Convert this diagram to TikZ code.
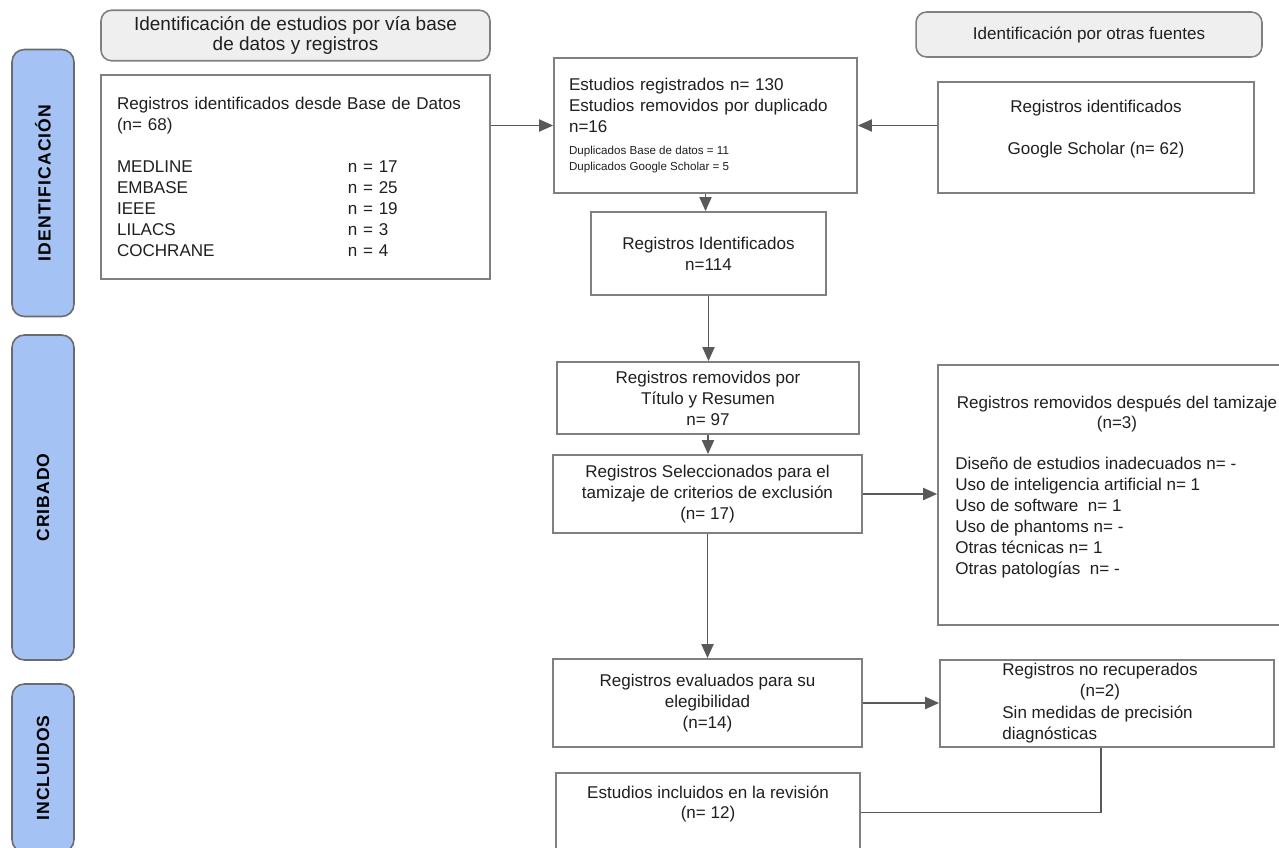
\documentclass[tikz,border=0pt]{standalone}
\usepackage{fontspec}
\setmainfont{Liberation Sans}
\usetikzlibrary{arrows.meta, positioning}
\definecolor{cInk}{HTML}{1F1F1F}
\definecolor{cEdge}{HTML}{808080}
\definecolor{cArr}{HTML}{595959}
\definecolor{cHead}{HTML}{EFEFEF}
\definecolor{cSide}{HTML}{A4C2F4}
\definecolor{cSideD}{HTML}{6B6B6B}
\newcommand{\txtfont}{\fontsize{9.7}{11.9}\selectfont}
\newcommand{\hdfont}{\fontsize{10.8}{11.9}\selectfont}
\newcommand{\dupfont}{\fontsize{6.6}{9}\selectfont\spaceskip=\fontdimen2\font\relax}
\newcommand{\phfont}{\fontsize{10}{11}\selectfont\bfseries\addfontfeature{LetterSpace=6}}
\newcommand{\dbrow}[2]{\makebox[4.62cm][l]{#1}#2}
\tikzset{
  box/.style={rectangle, draw=cEdge, line width=1pt, fill=white, text=cInk, font=\txtfont, inner sep=0pt},
  hdr/.style={rectangle, rounded corners=6pt, draw=cEdge, line width=0.9pt, fill=cHead, align=center,
              font=\hdfont, text=cInk, minimum height=0.9cm},
  phase/.style={rectangle, rounded corners=7pt, draw=cSideD, line width=0.9pt, fill=cSide, rotate=90,
                font=\phfont, text=black, minimum height=1.24cm},
  txt/.style={font=\txtfont, text=cInk, inner sep=0pt},
  flow/.style={-{Triangle[length=2.8mm, width=2.4mm]}, line width=1.1pt, draw=cArr},
  link/.style={line width=1.1pt, draw=cArr},
}

\begin{document}
\begin{tikzpicture}[x=0.02cm, y=-0.02cm]
  \useasboundingbox (0,0) rectangle (1279,848);
  \clip (0,0) rectangle (1279,848);

  % ---- column headers and phases
  \node[hdr, minimum width=7.78cm] (hdDb) at (295.5,35.5) {Identificación de estudios por vía base\\ de datos y registros};
  \node[hdr, minimum width=6.92cm, font=\txtfont] (hdOtr) at (1089,34.5) {Identificación por otras fuentes};
  \node[phase, minimum width=5.34cm] (phId) at (43,183) {IDENTIFICACIÓN};
  \node[phase, minimum width=6.50cm] (phCrib) at (43,497.5) {CRIBADO};
  \node[phase, minimum width=3.36cm] (phInc) at (43,768) {INCLUIDOS};

  % ---- identificacion
  \node[box, minimum width=7.78cm, minimum height=4.08cm, text width=7.14cm, align=left] (db) at (295.5,177)
    {Registros identificados desde Base de Datos\\ (n= 68)\\[11.9pt]
     \dbrow{MEDLINE}{n = 17}\\ \dbrow{EMBASE}{n = 25}\\ \dbrow{IEEE}{n = 19}\\
     \dbrow{LILACS}{n = 3}\\ \dbrow{COCHRANE}{n = 4}};
  \node[box, minimum width=6.06cm, minimum height=2.70cm, text width=5.46cm, align=left] (dup) at (705.5,125.5)
    {Estudios registrados n= 130\\ Estudios removidos por duplicado\\ n=16\\[1pt]
     \parbox[t]{5.46cm}{\dupfont Duplicados Base de datos = 11\\ Duplicados Google Scholar = 5}};
  \node[box, minimum width=6.32cm, minimum height=2.22cm] (gs) at (1096,137.5) {};
  \node[txt, align=center] (gsTxt) at (1096,129.5) {Registros identificados\\[12pt] Google Scholar (n= 62)};
  \node[box, minimum width=4.70cm, minimum height=1.66cm, align=center] (ident) at (708.5,253.5)
    {Registros Identificados\\ n=114};

  % ---- cribado
  \node[box, minimum width=6.04cm, minimum height=1.44cm, align=center] (remTit) at (708,398)
    {Registros removidos por\\ Título y Resumen\\ n= 97};
  \node[box, minimum width=6.18cm, minimum height=1.56cm, align=center] (sel) at (707.5,494)
    {Registros Seleccionados para el\\ tamizaje de criterios de exclusión\\ (n= 17)};
  \node[box, minimum width=7.16cm, minimum height=5.20cm] (remAft) at (1117,495) {};
  \node[txt, align=center] (remAftHd) at (1117,414) {Registros removidos después del tamizaje\\ (n=3)};
  \node[txt, align=left, anchor=north west] (remAftLst) at (955,457)
    {Diseño de estudios inadecuados n= -\\ Uso de inteligencia artificial n= 1\\ Uso de software~ n= 1\\
     Uso de phantoms n= -\\ Otras técnicas n= 1\\ Otras patologías~ n= -};

  % ---- incluidos
  \node[box, minimum width=6.18cm, minimum height=1.76cm, align=center] (elig) at (707.5,703)
    {Registros evaluados para su\\ elegibilidad\\ (n=14)};
  \node[box, minimum width=6.68cm, minimum height=1.74cm] (noRec) at (1107,703.5) {};
  \node[txt, align=center] (noRecHd) at (1100,682) {Registros no recuperados\\ (n=2)};
  \node[txt, align=left, anchor=north west] (noRecLst) at (1002,706) {Sin medidas de precisión\\ diagnósticas};
  \node[box, minimum width=6.08cm, minimum height=1.58cm] (incl) at (708,812.5) {};
  \node[txt, align=center] (inclTxt) at (708,804) {Estudios incluidos en la revisión\\ (n= 12)};

  % ---- connectors
  \draw[flow] (db.east |- dup.west) -- (dup.west);
  \draw[flow] (gs.west |- dup.east) -- (dup.east);
  \draw[flow] (dup.south) -- (dup.south |- ident.north);
  \draw[flow] (ident.south) -- (ident.south |- remTit.north);
  \draw[flow] (remTit.south) -- (remTit.south |- sel.north);
  \draw[flow] (sel.east) -- (sel.east -| remAft.west);
  \draw[flow] (sel.south) -- (sel.south |- elig.north);
  \draw[flow] (elig.east) -- (elig.east -| noRec.west);
  \draw[link] ([xshift=-0.12cm]noRec.south) |- (incl.east);
\end{tikzpicture}
\end{document}
